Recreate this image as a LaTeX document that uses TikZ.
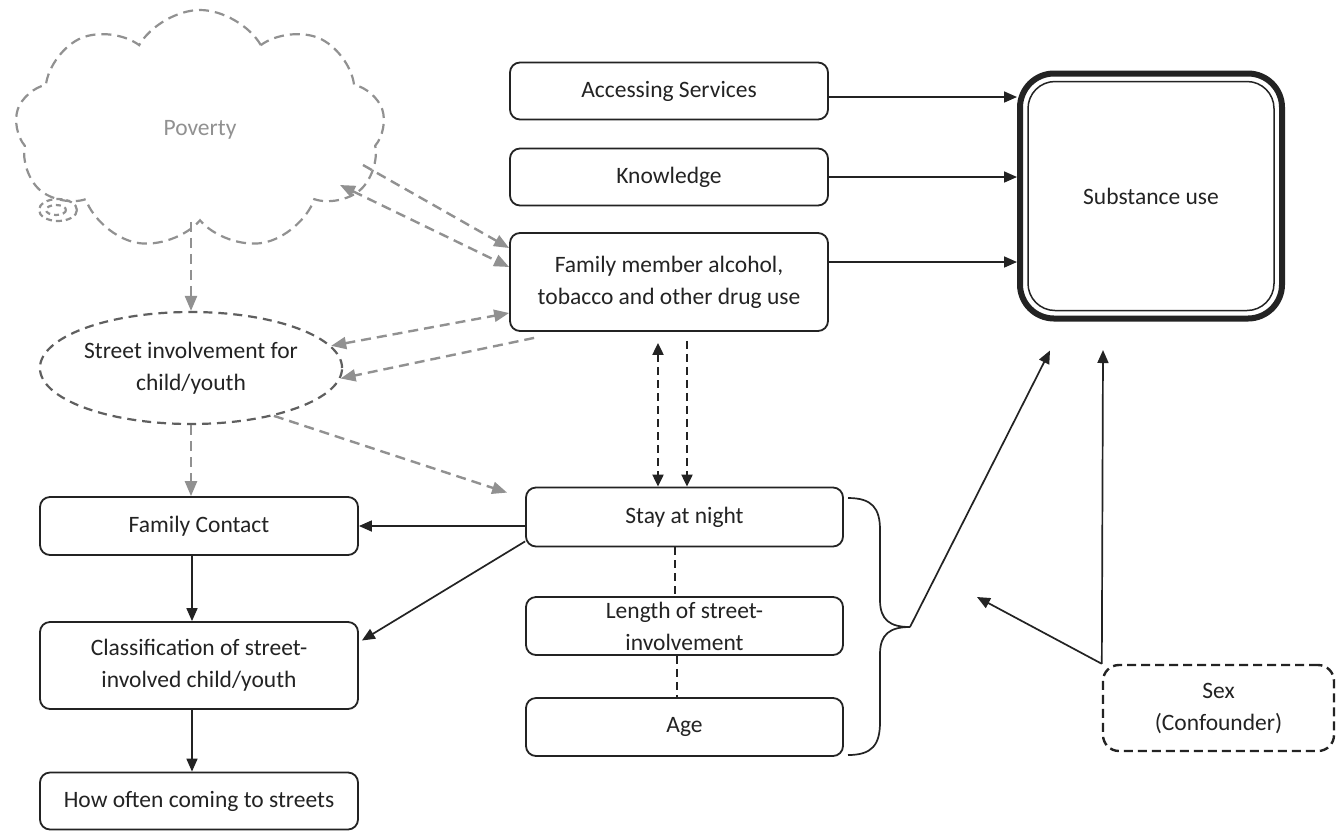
\documentclass[tikz,border=0pt]{standalone}
\usepackage{fontspec}
\setmainfont{Carlito}
\usetikzlibrary{positioning,arrows.meta,calc,shapes.geometric,shapes.symbols}
\definecolor{InkBlack}{RGB}{35,35,35}
\definecolor{CloudGray}{RGB}{145,145,145}
\definecolor{RingGray}{RGB}{95,95,95}

\begin{document}
\begin{tikzpicture}[x=1pt,y=-1pt,
  every node/.style={font=\fontsize{23.5}{32}\selectfont, text=InkBlack},
  box/.style={draw=InkBlack, line width=1.8pt, rounded corners=10pt, align=center, minimum width=318, inner sep=0pt},
  arr/.style={draw=InkBlack, line width=1.7pt, -{Triangle[length=13pt,width=11pt]}},
  dasharr/.style={draw=InkBlack, line width=2pt, dash pattern=on 8pt off 5pt, -{Triangle[length=12pt,width=11pt]}},
  grayarr/.style={draw=CloudGray, line width=2.4pt, dash pattern=on 10pt off 6pt, -{Triangle[length=15pt,width=12pt]}},
  cloudline/.style={draw=CloudGray, line width=2.2pt, dash pattern=on 10pt off 6pt}]
  \useasboundingbox[fill=white] (0,0) rectangle (1337,831);

  % poverty cloud and street involvement
  \node[cloud, cloudline, cloud puffs=9, cloud puff arc=120, cloud ignores aspect,
        minimum width=370, minimum height=240, text=CloudGray] (poverty) at (200,130) {Poverty};
  \draw[cloudline, dash pattern=on 6pt off 4pt] (58,210) ellipse [x radius=19, y radius=11];
  \draw[cloudline, dash pattern=on 5pt off 4pt] (56,210) ellipse [x radius=10, y radius=5];
  \node[ellipse, draw=RingGray, line width=2.2pt, dash pattern=on 9pt off 6pt, align=center,
        minimum width=300, minimum height=112, inner sep=0pt] (street) at (191,368)
        {Street involvement for\\child/youth};

  % right hand factors
  \node[box, minimum height=57] (acc) at (669,91) {Accessing Services};
  \node[box, minimum height=57] (know) at (669,177) {Knowledge};
  \node[box, minimum height=98] (fam) at (669,282) {Family member alcohol,\\tobacco and other drug use};
  \node[box, line width=6pt, rounded corners=34pt, minimum width=262, minimum height=245] (subst) at (1151,196) {Substance use};
  \draw[InkBlack, line width=1.5pt, rounded corners=27pt] ($(subst.north west)+(11,11)$) rectangle ($(subst.south east)+(-11,-11)$);

  % middle column
  \node[box, minimum width=317, minimum height=59] (stay) at (684.5,517) {Stay at night};
  \node[box, minimum width=317, minimum height=58] (length) at (684.5,626) {Length of street-\\involvement};
  \node[box, minimum width=317, minimum height=58] (age) at (684.5,727) {Age};

  % left column
  \node[box, minimum height=58] (famcont) at (199,526) {Family Contact};
  \node[box, minimum height=87] (classif) at (199,665.5) {Classification of street-\\involved child/youth};
  \node[box, minimum height=57] (often) at (199,801) {How often coming to streets};

  \node[box, minimum width=231, minimum height=86, line width=2.4pt, rounded corners=16pt,
        dash pattern=on 9pt off 5pt] (sex) at (1218.5,708) {Sex\\(Confounder)};

  % arrows into substance use
  \draw[arr] ($(acc.east)+(0,6)$) -- ($(acc.east -| subst.west)+(0,6)$);
  \draw[arr] (know.east) -- (know.east -| subst.west);
  \draw[arr] ($(fam.east)+(0,-20)$) -- ($(fam.east -| subst.west)+(0,-20)$);

  % family use <-> stay at night
  \coordinate (fs1) at ($(fam.south)+(-11,11)$);
  \coordinate (fs2) at ($(fam.south)+(18,9)$);
  \draw[dasharr, {Triangle[length=12pt,width=11pt]}-{Triangle[length=12pt,width=11pt]}] (fs1) -- (fs1 |- stay.north);
  \draw[dasharr] (fs2) -- (fs2 |- stay.north);
  \draw[InkBlack, line width=2pt, dash pattern=on 8pt off 5pt] ($(stay.south)+(-10,0)$) -- ($(length.north)+(-10,0)$);
  \draw[InkBlack, line width=2pt, dash pattern=on 8pt off 5pt] ($(length.south)+(-8,0)$) -- ($(age.north)+(-8,0)$);

  % left column links
  \draw[arr] (famcont.east -| stay.west) -- (famcont.east);
  \draw[arr] ($(stay.south west)+(0,-6)$) -- ($(classif.east)+(3,-25)$);
  \draw[arr] ($(famcont.south)+(-7,0)$) -- ($(classif.north)+(-7,0)$);
  \draw[arr] ($(classif.south)+(-7,0)$) -- ($(often.north)+(-7,0)$);

  % grey dashed links
  \draw[grayarr] (poverty.south -| street.north) -- (street.north);
  \draw[grayarr] (street.south) -- (street.south |- famcont.north);
  \draw[grayarr] (street.-30) -- ($(stay.north west)+(-18,6)$);
  \draw[grayarr, {Triangle[length=15pt,width=12pt]}-{Triangle[length=15pt,width=12pt]}] ($(poverty.center)+(140,55)$) -- ($(fam.west)+(0,-15)$);
  \draw[grayarr] ($(poverty.center)+(163,35)$) -- ($(fam.west)+(0,-34)$);
  \draw[grayarr, {Triangle[length=15pt,width=12pt]}-{Triangle[length=15pt,width=12pt]}] (street.9) -- ($(fam.west)+(0,31)$);
  \draw[grayarr] ($(fam.south west)+(25,6)$) -- (street.-4);

  % brace and confounder
  \draw[InkBlack, line width=1.7pt] (848,498) .. controls (872,498) and (880,508) .. (880,530) -- (880,600)
    .. controls (880,620) and (890,627) .. (910,627) .. controls (890,627) and (880,634) .. (880,654)
    -- (880,722) .. controls (880,745) and (872,755) .. (848,755);
  \coordinate (tip) at (910,627);
  \coordinate (sexpull) at (977,597);
  \coordinate (sexup) at (1103,350);
  \draw[arr] (tip) -- ($(subst.south west)+(33,29)$);
  \draw[arr] (sex.north west) -- (sexpull);
  \draw[arr] (sex.north west) -- (sexup);
\end{tikzpicture}
\end{document}
